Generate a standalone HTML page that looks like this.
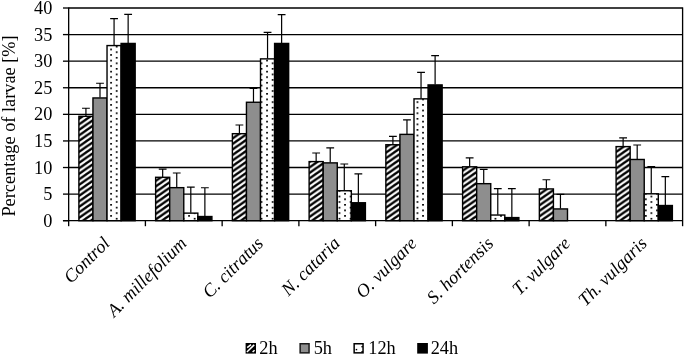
<!DOCTYPE html>
<html><head><meta charset="utf-8"><title>Chart</title>
<style>html,body{margin:0;padding:0;background:#fff}svg{display:block}text{font-family:"Liberation Serif",serif;fill:#000}</style></head><body>
<svg width="685" height="356" viewBox="0 0 685 356">
<defs>
<pattern id="hatch" patternUnits="userSpaceOnUse" width="7.9" height="5.5" x="80.2" y="200.55">
<rect width="7.9" height="5.5" fill="#fff"/>
<path d="M-7.9,11.0 L15.8,-5.5 M-7.9,5.5 L7.9,-5.5 M0,11.0 L15.8,0" stroke="#000" stroke-width="2.4" fill="none"/>
</pattern>
<pattern id="dots" patternUnits="userSpaceOnUse" width="11.14" height="5.55" x="110.2" y="204.0">
<rect width="11.14" height="5.55" fill="#fff"/>
<rect x="0" y="0" width="1.8" height="1.6" fill="#000"/>
<rect x="5.570" y="2.775" width="1.8" height="1.6" fill="#000"/>
</pattern>
</defs>
<rect width="685" height="356" fill="#fff"/>
<line x1="68.66" y1="194.11" x2="682.6" y2="194.11" stroke="#000" stroke-width="1.33"/>
<line x1="68.66" y1="167.52" x2="682.6" y2="167.52" stroke="#000" stroke-width="1.33"/>
<line x1="68.66" y1="140.94" x2="682.6" y2="140.94" stroke="#000" stroke-width="1.33"/>
<line x1="68.66" y1="114.35" x2="682.6" y2="114.35" stroke="#000" stroke-width="1.33"/>
<line x1="68.66" y1="87.76" x2="682.6" y2="87.76" stroke="#000" stroke-width="1.33"/>
<line x1="68.66" y1="61.17" x2="682.6" y2="61.17" stroke="#000" stroke-width="1.33"/>
<line x1="68.66" y1="34.59" x2="682.6" y2="34.59" stroke="#000" stroke-width="1.33"/>
<line x1="68.66" y1="8.00" x2="682.6" y2="8.00" stroke="#000" stroke-width="1.33"/>
<line x1="682.6" y1="7.40" x2="682.6" y2="226.20" stroke="#000" stroke-width="1.33"/>
<rect x="78.89" y="116.30" width="14.07" height="104.40" fill="url(#hatch)" stroke="#000" stroke-width="1.4"/>
<rect x="92.96" y="97.95" width="14.07" height="122.75" fill="#8e8e8e" stroke="#000" stroke-width="1.4"/>
<rect x="107.03" y="45.57" width="14.07" height="175.13" fill="url(#dots)" stroke="#000" stroke-width="1.4"/>
<rect x="121.10" y="43.45" width="14.07" height="177.25" fill="#000" stroke="#000" stroke-width="1.4"/>
<path d="M85.93,115.95 V108.23 M82.03,108.23 H89.83" stroke="#000" stroke-width="1.2" fill="none"/>
<path d="M100.00,97.60 V83.24 M96.10,83.24 H103.90" stroke="#000" stroke-width="1.2" fill="none"/>
<path d="M114.07,45.22 V18.63 M110.17,18.63 H117.97" stroke="#000" stroke-width="1.2" fill="none"/>
<path d="M128.14,43.10 V14.38 M124.24,14.38 H132.04" stroke="#000" stroke-width="1.2" fill="none"/>
<rect x="155.63" y="177.29" width="14.07" height="43.41" fill="url(#hatch)" stroke="#000" stroke-width="1.4"/>
<rect x="169.70" y="187.66" width="14.07" height="33.04" fill="#8e8e8e" stroke="#000" stroke-width="1.4"/>
<rect x="183.77" y="213.13" width="14.07" height="7.57" fill="url(#dots)" stroke="#000" stroke-width="1.4"/>
<rect x="197.84" y="216.53" width="14.07" height="4.17" fill="#000" stroke="#000" stroke-width="1.4"/>
<path d="M162.67,176.94 V169.12 M158.77,169.12 H166.57" stroke="#000" stroke-width="1.2" fill="none"/>
<path d="M176.74,187.31 V173.00 M172.84,173.00 H180.64" stroke="#000" stroke-width="1.2" fill="none"/>
<path d="M190.81,212.78 V187.20 M186.91,187.20 H194.71" stroke="#000" stroke-width="1.2" fill="none"/>
<path d="M204.88,216.18 V187.73 M200.98,187.73 H208.78" stroke="#000" stroke-width="1.2" fill="none"/>
<rect x="232.38" y="133.68" width="14.07" height="87.02" fill="url(#hatch)" stroke="#000" stroke-width="1.4"/>
<rect x="246.45" y="102.26" width="14.07" height="118.44" fill="#8e8e8e" stroke="#000" stroke-width="1.4"/>
<rect x="260.52" y="58.87" width="14.07" height="161.83" fill="url(#dots)" stroke="#000" stroke-width="1.4"/>
<rect x="274.59" y="43.45" width="14.07" height="177.25" fill="#000" stroke="#000" stroke-width="1.4"/>
<path d="M239.41,133.33 V124.98 M235.51,124.98 H243.31" stroke="#000" stroke-width="1.2" fill="none"/>
<path d="M253.48,101.91 V88.29 M249.58,88.29 H257.38" stroke="#000" stroke-width="1.2" fill="none"/>
<path d="M267.55,58.52 V32.46 M263.65,32.46 H271.45" stroke="#000" stroke-width="1.2" fill="none"/>
<path d="M281.62,43.10 V14.65 M277.72,14.65 H285.52" stroke="#000" stroke-width="1.2" fill="none"/>
<rect x="309.12" y="161.60" width="14.07" height="59.10" fill="url(#hatch)" stroke="#000" stroke-width="1.4"/>
<rect x="323.19" y="162.88" width="14.07" height="57.82" fill="#8e8e8e" stroke="#000" stroke-width="1.4"/>
<rect x="337.26" y="190.74" width="14.07" height="29.96" fill="url(#dots)" stroke="#000" stroke-width="1.4"/>
<rect x="351.33" y="202.76" width="14.07" height="17.94" fill="#000" stroke="#000" stroke-width="1.4"/>
<path d="M316.15,161.25 V153.01 M312.25,153.01 H320.05" stroke="#000" stroke-width="1.2" fill="none"/>
<path d="M330.22,162.53 V147.85 M326.32,147.85 H334.12" stroke="#000" stroke-width="1.2" fill="none"/>
<path d="M344.29,190.39 V164.02 M340.39,164.02 H348.19" stroke="#000" stroke-width="1.2" fill="none"/>
<path d="M358.36,202.41 V173.91 M354.46,173.91 H362.26" stroke="#000" stroke-width="1.2" fill="none"/>
<rect x="385.86" y="144.74" width="14.07" height="75.96" fill="url(#hatch)" stroke="#000" stroke-width="1.4"/>
<rect x="399.93" y="134.37" width="14.07" height="86.33" fill="#8e8e8e" stroke="#000" stroke-width="1.4"/>
<rect x="414.00" y="98.85" width="14.07" height="121.85" fill="url(#dots)" stroke="#000" stroke-width="1.4"/>
<rect x="428.07" y="84.92" width="14.07" height="135.78" fill="#000" stroke="#000" stroke-width="1.4"/>
<path d="M392.90,144.39 V136.31 M389.00,136.31 H396.80" stroke="#000" stroke-width="1.2" fill="none"/>
<path d="M406.97,134.02 V119.88 M403.07,119.88 H410.87" stroke="#000" stroke-width="1.2" fill="none"/>
<path d="M421.04,98.50 V72.34 M417.14,72.34 H424.94" stroke="#000" stroke-width="1.2" fill="none"/>
<path d="M435.11,84.57 V55.59 M431.21,55.59 H439.01" stroke="#000" stroke-width="1.2" fill="none"/>
<rect x="462.60" y="166.81" width="14.07" height="53.89" fill="url(#hatch)" stroke="#000" stroke-width="1.4"/>
<rect x="476.67" y="183.67" width="14.07" height="37.03" fill="#8e8e8e" stroke="#000" stroke-width="1.4"/>
<rect x="490.74" y="215.04" width="14.07" height="5.66" fill="url(#dots)" stroke="#000" stroke-width="1.4"/>
<rect x="504.81" y="217.59" width="14.07" height="3.11" fill="#000" stroke="#000" stroke-width="1.4"/>
<path d="M469.64,166.46 V157.95 M465.74,157.95 H473.54" stroke="#000" stroke-width="1.2" fill="none"/>
<path d="M483.71,183.32 V169.39 M479.81,169.39 H487.61" stroke="#000" stroke-width="1.2" fill="none"/>
<path d="M497.78,214.69 V188.53 M493.88,188.53 H501.68" stroke="#000" stroke-width="1.2" fill="none"/>
<path d="M511.85,217.24 V188.53 M507.95,188.53 H515.75" stroke="#000" stroke-width="1.2" fill="none"/>
<rect x="539.35" y="188.93" width="14.07" height="31.77" fill="url(#hatch)" stroke="#000" stroke-width="1.4"/>
<rect x="553.42" y="208.93" width="14.07" height="11.77" fill="#8e8e8e" stroke="#000" stroke-width="1.4"/>
<path d="M546.38,188.58 V179.76 M542.48,179.76 H550.28" stroke="#000" stroke-width="1.2" fill="none"/>
<path d="M560.45,208.58 V194.33 M556.55,194.33 H564.35" stroke="#000" stroke-width="1.2" fill="none"/>
<rect x="616.09" y="146.60" width="14.07" height="74.09" fill="url(#hatch)" stroke="#000" stroke-width="1.4"/>
<rect x="630.16" y="159.47" width="14.07" height="61.23" fill="#8e8e8e" stroke="#000" stroke-width="1.4"/>
<rect x="644.23" y="193.82" width="14.07" height="26.88" fill="url(#dots)" stroke="#000" stroke-width="1.4"/>
<rect x="658.30" y="205.52" width="14.07" height="15.18" fill="#000" stroke="#000" stroke-width="1.4"/>
<path d="M623.12,146.25 V137.91 M619.22,137.91 H627.02" stroke="#000" stroke-width="1.2" fill="none"/>
<path d="M637.19,159.12 V144.98 M633.29,144.98 H641.09" stroke="#000" stroke-width="1.2" fill="none"/>
<path d="M651.26,193.47 V166.62 M647.36,166.62 H655.16" stroke="#000" stroke-width="1.2" fill="none"/>
<path d="M665.33,205.17 V176.56 M661.43,176.56 H669.23" stroke="#000" stroke-width="1.2" fill="none"/>
<line x1="68.66" y1="7.40" x2="68.66" y2="226.20" stroke="#000" stroke-width="1.33"/>
<line x1="62.959999999999994" y1="220.70" x2="682.6" y2="220.70" stroke="#000" stroke-width="1.33"/>
<line x1="62.96" y1="220.70" x2="68.66" y2="220.70" stroke="#000" stroke-width="1.33"/>
<line x1="62.96" y1="194.11" x2="68.66" y2="194.11" stroke="#000" stroke-width="1.33"/>
<line x1="62.96" y1="167.52" x2="68.66" y2="167.52" stroke="#000" stroke-width="1.33"/>
<line x1="62.96" y1="140.94" x2="68.66" y2="140.94" stroke="#000" stroke-width="1.33"/>
<line x1="62.96" y1="114.35" x2="68.66" y2="114.35" stroke="#000" stroke-width="1.33"/>
<line x1="62.96" y1="87.76" x2="68.66" y2="87.76" stroke="#000" stroke-width="1.33"/>
<line x1="62.96" y1="61.17" x2="68.66" y2="61.17" stroke="#000" stroke-width="1.33"/>
<line x1="62.96" y1="34.59" x2="68.66" y2="34.59" stroke="#000" stroke-width="1.33"/>
<line x1="62.96" y1="8.00" x2="68.66" y2="8.00" stroke="#000" stroke-width="1.33"/>
<line x1="145.40" y1="220.70" x2="145.40" y2="226.20" stroke="#000" stroke-width="1.33"/>
<line x1="222.15" y1="220.70" x2="222.15" y2="226.20" stroke="#000" stroke-width="1.33"/>
<line x1="298.89" y1="220.70" x2="298.89" y2="226.20" stroke="#000" stroke-width="1.33"/>
<line x1="375.63" y1="220.70" x2="375.63" y2="226.20" stroke="#000" stroke-width="1.33"/>
<line x1="452.37" y1="220.70" x2="452.37" y2="226.20" stroke="#000" stroke-width="1.33"/>
<line x1="529.12" y1="220.70" x2="529.12" y2="226.20" stroke="#000" stroke-width="1.33"/>
<line x1="605.86" y1="220.70" x2="605.86" y2="226.20" stroke="#000" stroke-width="1.33"/>
<text x="52.3" y="226.80" font-size="18.3" text-anchor="end">0</text>
<text x="52.3" y="200.21" font-size="18.3" text-anchor="end">5</text>
<text x="52.3" y="173.62" font-size="18.3" text-anchor="end">10</text>
<text x="52.3" y="147.04" font-size="18.3" text-anchor="end">15</text>
<text x="52.3" y="120.45" font-size="18.3" text-anchor="end">20</text>
<text x="52.3" y="93.86" font-size="18.3" text-anchor="end">25</text>
<text x="52.3" y="67.27" font-size="18.3" text-anchor="end">30</text>
<text x="52.3" y="40.69" font-size="18.3" text-anchor="end">35</text>
<text x="52.3" y="14.10" font-size="18.3" text-anchor="end">40</text>
<text transform="translate(14.8,216.6) rotate(-90)" font-size="18.3">Percentage of larvae [%]</text>
<text transform="translate(110.73,244.40) rotate(-45)" font-size="18.3" font-style="italic" text-anchor="end">Control</text>
<text transform="translate(187.47,244.40) rotate(-45)" font-size="18.3" font-style="italic" text-anchor="end">A. millefolium</text>
<text transform="translate(264.22,244.40) rotate(-45)" font-size="18.3" font-style="italic" text-anchor="end">C. citratus</text>
<text transform="translate(340.96,244.40) rotate(-45)" font-size="18.3" font-style="italic" text-anchor="end">N. cataria</text>
<text transform="translate(417.70,244.40) rotate(-45)" font-size="18.3" font-style="italic" text-anchor="end">O. vulgare</text>
<text transform="translate(494.44,244.40) rotate(-45)" font-size="18.3" font-style="italic" text-anchor="end">S. hortensis</text>
<text transform="translate(571.19,244.40) rotate(-45)" font-size="18.3" font-style="italic" text-anchor="end">T. vulgare</text>
<text transform="translate(647.93,244.40) rotate(-45)" font-size="18.3" font-style="italic" text-anchor="end">Th. vulgaris</text>
<rect x="245.6" y="343.0" width="10.4" height="10.60" fill="#000"/>
<path d="M246.90,352.00 L254.20,344.90 M247.20,347.60 L251.00,344.60 M252.60,352.00 L254.60,350.20" stroke="#fff" stroke-width="1.5" fill="none"/>
<text x="259.3" y="353.7" font-size="18.3">2h</text>
<rect x="300.15" y="343.75" width="8.9" height="9.10" fill="#8e8e8e" stroke="#1a1a1a" stroke-width="1.5"/>
<text x="313.7" y="353.7" font-size="18.3">5h</text>
<rect x="354.15" y="343.75" width="8.9" height="9.10" fill="#fff" stroke="#000" stroke-width="1.5"/>
<rect x="355.70" y="348.90" width="1.5" height="1.4" fill="#000"/>
<rect x="361.40" y="346.00" width="1.5" height="1.4" fill="#000"/>
<rect x="361.40" y="351.00" width="1.5" height="1.4" fill="#000"/>
<text x="368.3" y="353.7" font-size="18.3">12h</text>
<rect x="417.2" y="343.0" width="10.700000000000001" height="10.60" fill="#000"/>
<text x="430.7" y="353.7" font-size="18.3">24h</text>
</svg></body></html>
